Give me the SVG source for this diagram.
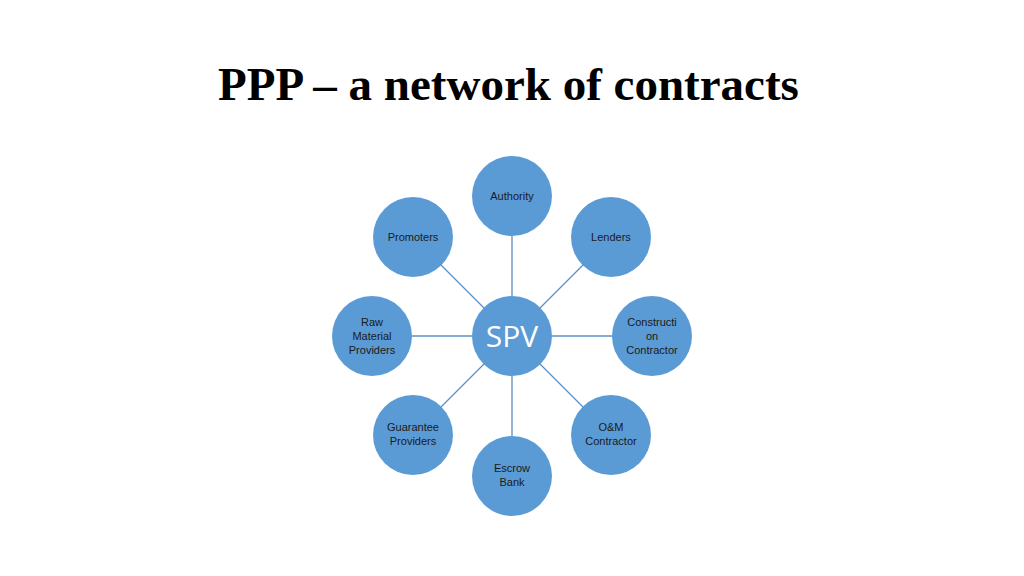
<svg xmlns="http://www.w3.org/2000/svg" width="1024" height="576" viewBox="0 0 1024 576">
<style>
.node{fill:#5B9BD5}
.lbl{font-family:"Liberation Sans",Arial,sans-serif;font-size:11px;fill:#1a1a1a;text-anchor:middle}
.edge{stroke:#5B8FC4;stroke-width:1.3;fill:none}
</style>
<rect width="1024" height="576" fill="#ffffff"/>
<text x="508.5" y="100" font-family="'Liberation Serif','Times New Roman',serif" font-size="47" font-weight="bold" text-anchor="middle" fill="#000">PPP – a network of contracts</text>
<g id="connectors">
<line class="edge" x1="512" y1="296" x2="512" y2="236"/>
<line class="edge" x1="540" y1="308" x2="583" y2="265"/>
<line class="edge" x1="552" y1="336" x2="612" y2="336"/>
<line class="edge" x1="540" y1="364" x2="583" y2="407"/>
<line class="edge" x1="512" y1="376" x2="512" y2="436"/>
<line class="edge" x1="484" y1="364" x2="441" y2="407"/>
<line class="edge" x1="472" y1="336" x2="412" y2="336"/>
<line class="edge" x1="484" y1="308" x2="441" y2="265"/>
</g>
<g id="spv"><circle class="node" cx="512" cy="336" r="40"/><text x="512" y="347" font-family="'Open Sans','Liberation Sans',sans-serif" font-size="30" fill="#fff" text-anchor="middle">SPV</text></g>
<g id="authority"><circle class="node" cx="512" cy="196" r="40"/><text class="lbl" x="512" y="200">Authority</text></g>
<g id="lenders"><circle class="node" cx="611" cy="237" r="40"/><text class="lbl" x="611" y="241">Lenders</text></g>
<g id="construction"><circle class="node" cx="652" cy="336" r="40"/><text class="lbl" x="652" y="326">Constructi</text><text class="lbl" x="652" y="340">on</text><text class="lbl" x="652" y="354">Contractor</text></g>
<g id="om"><circle class="node" cx="611" cy="435" r="40"/><text class="lbl" x="611" y="431">O&amp;M</text><text class="lbl" x="611" y="445">Contractor</text></g>
<g id="escrow"><circle class="node" cx="512" cy="476" r="40"/><text class="lbl" x="512" y="472">Escrow</text><text class="lbl" x="512" y="486">Bank</text></g>
<g id="guarantee"><circle class="node" cx="413" cy="435" r="40"/><text class="lbl" x="413" y="431">Guarantee</text><text class="lbl" x="413" y="445">Providers</text></g>
<g id="raw"><circle class="node" cx="372" cy="336" r="40"/><text class="lbl" x="372" y="326">Raw</text><text class="lbl" x="372" y="340">Material</text><text class="lbl" x="372" y="354">Providers</text></g>
<g id="promoters"><circle class="node" cx="413" cy="237" r="40"/><text class="lbl" x="413" y="241">Promoters</text></g>
</svg>
